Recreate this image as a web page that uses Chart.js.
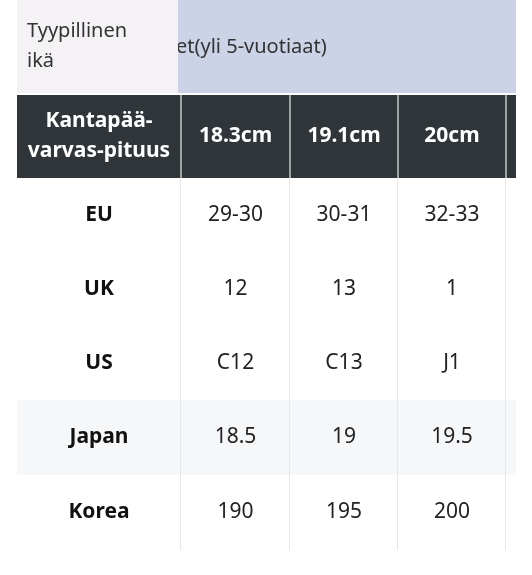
<!DOCTYPE html>
<html>
<head>
<meta charset="utf-8">
<script src="https://cdn.jsdelivr.net/npm/chart.js@4"></script>
<style>
  html, body { margin: 0; padding: 0; background: #fff; }
  canvas { display: block; }
</style>
</head>
<body>
<canvas id="taulukko" width="532" height="575"></canvas>
<script>
const ageTitle = ["Tyypillinen", "ikä"];
const ageGroup = "et(yli 5-vuotiaat)";
const headerLabel = ["Kantapää-", "varvas-pituus"];
const footLengths = ["18.3cm", "19.1cm", "20cm"];
const rowLabels = ["EU", "UK", "US", "Japan", "Korea"];
const eu = ["29-30", "30-31", "32-33"];
const uk = ["12", "13", "1"];
const us = ["C12", "C13", "J1"];
const japan = ["18.5", "19", "19.5"];
const korea = ["190", "195", "200"];
const rows = [eu, uk, us, japan, korea];

// layout (in scale units = pixels)
const colEdges = [17, 181, 290, 398, 506, 516];
const rowEdges = [178, 252, 326, 400, 475, 550];
const FONT = "'Noto Sans', 'Open Sans', sans-serif";

const tablePlugin = {
  id: "table",
  beforeDatasetsDraw(chart) {
    const ctx = chart.ctx;
    const sx = chart.scales.x, sy = chart.scales.y;
    const X = v => sx.getPixelForValue(v);
    const Y = v => sy.getPixelForValue(v);
    const rect = (x0, y0, x1, y1, c) => {
      ctx.fillStyle = c;
      ctx.fillRect(X(x0), Y(y0), X(x1) - X(x0), Y(y1) - Y(y0));
    };
    const text = (t, x, y, font, color, align) => {
      ctx.font = font;
      ctx.fillStyle = color;
      ctx.textAlign = align || "center";
      ctx.textBaseline = "middle";
      ctx.fillText(t, X(x), Y(y));
    };
    ctx.save();
    // top age row
    rect(17, 0, 178, 93, "#f4f2f5");
    rect(178, 0, 516, 93, "#ccd3e6");
    text(ageTitle[0], 27, 31, "20px " + FONT, "#333", "left");
    text(ageTitle[1], 27, 61, "20px " + FONT, "#333", "left");
    ctx.save();
    ctx.beginPath();
    ctx.rect(X(178), Y(0), X(516) - X(178), Y(93));
    ctx.clip();
    text(ageGroup, 176, 47, "20px " + FONT, "#333", "left");
    ctx.restore();

    // header
    rect(17, 95, 516, 178, "#2f3538");
    const hMid = 136;
    text(headerLabel[0], (colEdges[0] + colEdges[1]) / 2, 121, "bold 21px " + FONT, "#fff");
    text(headerLabel[1], (colEdges[0] + colEdges[1]) / 2, 151, "bold 21px " + FONT, "#fff");
    footLengths.forEach((f, i) => {
      text(f, (colEdges[i + 1] + colEdges[i + 2]) / 2, hMid, "bold 21px " + FONT, "#fff");
    });

    // body
    rect(17, rowEdges[3], 516, rowEdges[4], "#f6f7f9");
    rowLabels.forEach((lab, r) => {
      const yc = (rowEdges[r] + rowEdges[r + 1]) / 2;
      text(lab, (colEdges[0] + colEdges[1]) / 2, yc, "bold 21px " + FONT, "#111");
      rows[r].forEach((v, i) => {
        text(v, (colEdges[i + 1] + colEdges[i + 2]) / 2, yc, "21px " + FONT, "#222");
      });
    });

    // grid lines
    for (let i = 1; i < colEdges.length - 1; i++) {
      rect(colEdges[i] - 1, 95, colEdges[i] + 1, 178, "#9ea3a6");
      rect(colEdges[i] - 1, 178, colEdges[i], 550, "#e6e7e9");
    }
    ctx.restore();
  }
};

new Chart(document.getElementById("taulukko"), {
  type: "scatter",
  data: { datasets: [{ data: [] }] },
  options: {
    responsive: false,
    animation: false,
    layout: { padding: 0 },
    plugins: { legend: { display: false }, tooltip: { enabled: false } },
    scales: {
      x: { type: "linear", min: 0, max: 532, display: false },
      y: { type: "linear", min: 0, max: 575, reverse: true, display: false }
    }
  },
  plugins: [tablePlugin]
});
</script>
</body>
</html>
